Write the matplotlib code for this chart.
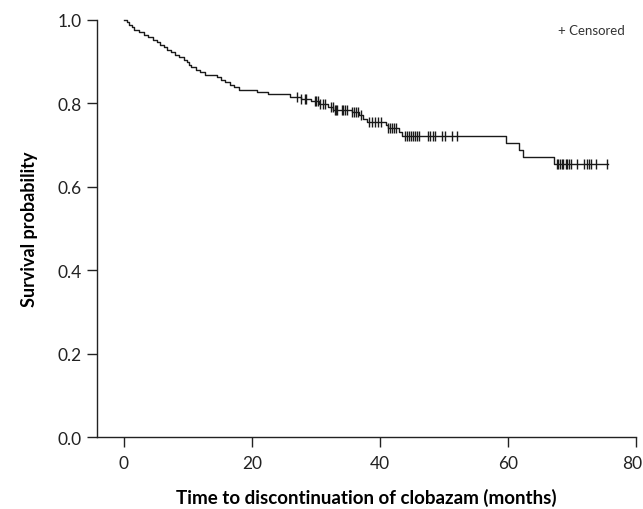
import numpy as np
import matplotlib
matplotlib.use("Agg")
import matplotlib.pyplot as plt
import matplotlib.transforms as mtransforms

# Kaplan-Meier estimate: event times (months) and survival after each event
event_times = [0.4, 0.8, 1.3, 1.6, 2.4, 3.2, 3.8, 4.5, 5.2, 5.7, 6.3, 6.8, 7.4, 7.9,
               8.6, 9.4, 9.9, 10.2, 10.5, 11.2, 11.9, 12.6, 14.6, 15.2, 15.8, 16.6,
               17.2, 17.9, 20.8, 22.5, 25.9, 27.6, 29.2, 30.5, 31.9, 32.7, 35.6, 36.7,
               37.3, 37.9, 40.9, 41.2, 42.9, 43.5, 59.7, 61.8, 62.4, 67.2]
surv_values = [0.994, 0.988, 0.982, 0.976, 0.971, 0.965, 0.959, 0.953, 0.947, 0.941,
               0.935, 0.929, 0.923, 0.917, 0.911, 0.905, 0.899, 0.893, 0.887, 0.881,
               0.875, 0.869, 0.863, 0.857, 0.851, 0.845, 0.839, 0.833, 0.828, 0.822,
               0.816, 0.811, 0.805, 0.798, 0.791, 0.785, 0.780, 0.771, 0.763, 0.756,
               0.748, 0.740, 0.731, 0.722, 0.705, 0.689, 0.671, 0.655]
censor_times = [27.0, 27.7, 28.3, 28.5, 29.8, 30.0, 30.3, 30.6, 31.1, 31.4,
                32.3, 32.6, 32.9, 33.2, 33.3, 34.0, 34.3, 34.6, 34.8,
                35.6, 35.9, 36.3, 36.6, 37.1, 38.3, 38.7, 39.2, 39.7, 40.2,
                41.3, 41.6, 41.9, 42.2, 42.5,
                43.9, 44.2, 44.5, 44.8, 45.2, 45.5, 45.8, 46.1, 47.5, 47.8,
                48.3, 48.6, 49.7, 50.2, 51.2, 52.0,
                67.7, 67.9, 68.1, 68.4, 68.6, 69.0, 69.2, 69.6, 69.9, 70.8,
                71.9, 72.3, 72.7, 73.0, 73.75, 75.5]
last_time = 75.7

x_ticks = [0, 20, 40, 60, 80]
y_ticks = [0.0, 0.2, 0.4, 0.6, 0.8, 1.0]

plt.rcParams['font.family'] = ['Lato', 'DejaVu Sans']

fig = plt.figure(figsize=(6.43, 5.10), dpi=100)
ax = fig.add_axes([0.151, 0.141, 0.838, 0.818])

t = np.concatenate([[0.0], event_times, [last_time]])
s = np.concatenate([[1.0], surv_values, [surv_values[-1]]])
ax.step(t, s, where='post', color='#1a1a1a', lw=1.0, clip_on=False)

ct = np.array(censor_times)
idx = np.searchsorted(np.array(event_times), ct, side='right')
cs = np.concatenate([[1.0], surv_values])[idx]
ax.plot(ct, cs, linestyle='none', marker='|', markersize=7, mew=1.0,
        color='#1a1a1a', clip_on=False)

ax.set_xlim(-4.2, 80)
ax.set_ylim(0, 1.0)
ax.set_xticks(x_ticks)
ax.set_yticks(y_ticks)
ax.set_yticklabels([f"{v:.1f}" for v in y_ticks])
for sp in ['top', 'right']:
    ax.spines[sp].set_visible(False)
for sp in ['left', 'bottom']:
    ax.spines[sp].set_linewidth(1.0)
    ax.spines[sp].set_color('#222222')
ax.tick_params(direction='out', length=7, width=1.0, color='#222222',
               labelsize=12.5, labelcolor='#222222', pad=4)
ax.tick_params(axis='x', pad=6)

# nudge the last x tick label so it stays inside the canvas
last_lbl = ax.get_xticklabels()[-1]
last_lbl.set_transform(last_lbl.get_transform() +
                       mtransforms.ScaledTranslation(-4 / 100, 0, fig.dpi_scale_trans))

ax.set_xlabel('Time to discontinuation of clobazam (months)', fontsize=13.5,
              fontweight='bold', labelpad=12)
ax.set_ylabel('Survival probability', fontsize=13, fontweight='bold', labelpad=14)

ax.text(0.855, 0.976, '+ Censored', transform=ax.transAxes, fontsize=9.5,
        color='#333333', va='center', ha='left')

fig.savefig('out.png', dpi=100)
